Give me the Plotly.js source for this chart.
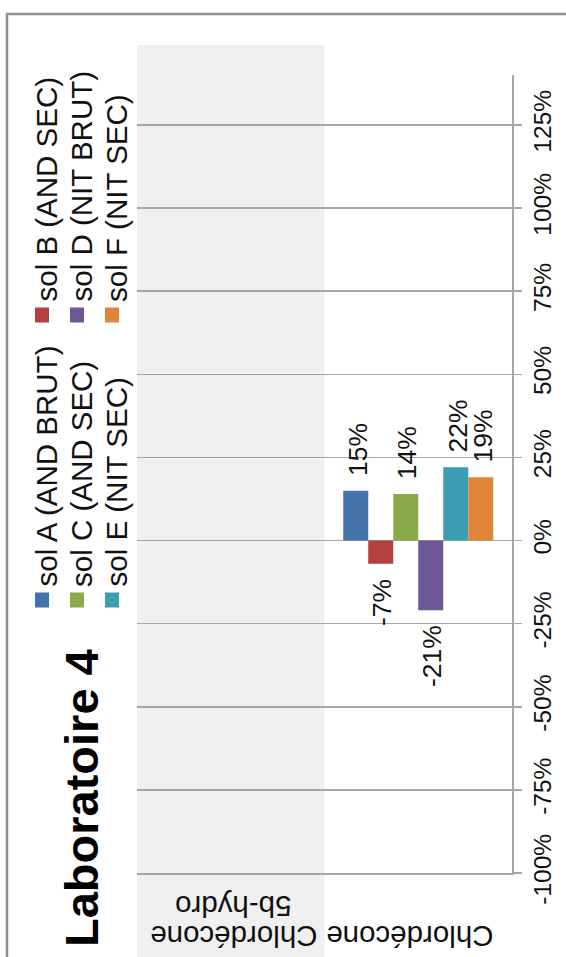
<!DOCTYPE html>
<html>
<head>
<meta charset="utf-8">
<script src="https://cdn.plot.ly/plotly-3.0.1.min.js"></script>
<style>
html,body{margin:0;padding:0;background:#fff;}
#chart{width:566px;height:957px;}
</style>
</head>
<body>
<div id="chart"></div>
<script>
// ---- data ----
var categories = ["Chlordécone<br>5b-hydro", "Chlordécone"];
var seriesNames = ["sol A (AND BRUT)", "sol B (AND SEC)", "sol C (AND SEC)", "sol D (NIT BRUT)", "sol E (NIT SEC)", "sol F (NIT SEC)"];
var solA = [null, 15];
var solB = [null, -7];
var solC = [null, 14];
var solD = [null, -21];
var solE = [null, 22];
var solF = [null, 19];
var seriesValues = [solA, solB, solC, solD, solE, solF];
var tickValues = [-100, -75, -50, -25, 0, 25, 50, 75, 100, 125];
var titleText = "Laboratoire 4";

// ---- styles ----
var colors = ["#4472AA", "#B5413E", "#89A94A", "#6F5696", "#3D9DB3", "#E0843A"];
var FONT = "Liberation Sans, Arial, sans-serif";
var W = 566, H = 957;
var L = 137, R = 512, T = 75, B = 873;
function px2x(px){ return (px - L) / (R - L); }
function py2y(py){ return (B - py) / (B - T); }
var BARGAP = 0.2;
var nSeries = seriesNames.length;
var catPx = (R - L) / categories.length;
var barPx = catPx * (1 - BARGAP) / nSeries;
var catLabelShift = [3, -8];

var traces = seriesNames.map(function(name, i){
  return {
    type: "bar",
    name: name,
    x: categories,
    y: seriesValues[i],
    marker: {color: colors[i], line: {color: colors[i], width: 0}},
    hoverinfo: "skip",
    showlegend: false
  };
});

var shapes = [];
var annotations = [];

// shaded first category band
shapes.push({type: "rect", layer: "below", xref: "paper", yref: "paper",
  x0: 0, x1: 0.5, y0: py2y(957), y1: py2y(45),
  fillcolor: "#f0f0f0", line: {width: 0}});
// outer frame
shapes.push({type: "rect", layer: "above", xref: "paper", yref: "paper",
  x0: px2x(7), x1: px2x(620), y0: py2y(1010), y1: py2y(14),
  fillcolor: "rgba(0,0,0,0)", line: {color: "#8f8f8f", width: 2.5}});

// title
annotations.push({xref: "paper", yref: "paper", x: px2x(81), y: py2y(798),
  xanchor: "center", yanchor: "middle", showarrow: false, textangle: -90,
  text: "<b>" + titleText + "</b>", font: {family: FONT, size: 47, color: "#000"}});

// legend (rotated)
var colMarkerX = [42, 77, 112];
var rowMarkerY = [600, 315];
seriesNames.forEach(function(name, i){
  var col = Math.floor(i / 2), row = i % 2;
  var mx = colMarkerX[col], my = rowMarkerY[row];
  shapes.push({type: "rect", xref: "paper", yref: "paper", layer: "above",
    x0: px2x(mx - 7), x1: px2x(mx + 7), y0: py2y(my + 7.5), y1: py2y(my - 7.5),
    fillcolor: colors[i], line: {width: 0}});
  annotations.push({xref: "paper", yref: "paper", x: px2x(mx + 4), y: py2y(my - 11),
    xanchor: "center", yanchor: "bottom", showarrow: false, textangle: -90,
    text: name, font: {family: FONT, size: 29.5, color: "#111"}});
});

// data labels (rotated, outside bar ends)
seriesValues.forEach(function(vals, i){
  vals.forEach(function(v, ci){
    if (v === null) return;
    annotations.push({xref: "x", yref: "y", x: categories[ci], y: v,
      xshift: (i - (nSeries - 1) / 2) * barPx + 2,
      yshift: v >= 0 ? 13 : -13,
      xanchor: "center", yanchor: v >= 0 ? "bottom" : "top",
      showarrow: false, textangle: -90,
      text: v + "%", font: {family: FONT, size: 26.5, color: "#111"}});
  });
});

// category labels (upside down)
categories.forEach(function(cat, ci){
  var lines = cat.split("<br>");
  lines.forEach(function(line, li){
    annotations.push({xref: "x", yref: "paper", x: cat, xshift: catLabelShift[ci],
      y: py2y(937 - li * 30),
      xanchor: "center", yanchor: "middle", showarrow: false, textangle: 180,
      text: line, font: {family: FONT, size: 29.5, color: "#111"}});
  });
});

var layout = {
  width: W, height: H,
  margin: {l: L, r: W - R, t: T, b: H - B, pad: 0},
  paper_bgcolor: "#fff", plot_bgcolor: "rgba(0,0,0,0)",
  barmode: "group", bargap: BARGAP, bargroupgap: 0,
  showlegend: false,
  font: {family: FONT, color: "#111"},
  xaxis: {type: "category", range: [-0.5, 1.5], showticklabels: false,
    showgrid: false, zeroline: false, showline: true, linecolor: "#a6a6a6", linewidth: 1.5,
    ticks: "", fixedrange: true},
  yaxis: {side: "right", range: [-100, 140], tickvals: tickValues,
    ticktext: tickValues.map(function(v){ return v + "%"; }),
    tickangle: -90, tickfont: {family: FONT, size: 24.5, color: "#111"},
    showgrid: true, gridcolor: "#a6a6a6", gridwidth: 1.5,
    zeroline: false, showline: true, linecolor: "#a6a6a6", linewidth: 1.5,
    ticks: "outside", ticklen: 8, tickcolor: "#a6a6a6", tickwidth: 1.5, fixedrange: true},
  shapes: shapes,
  annotations: annotations
};

Plotly.newPlot("chart", traces, layout, {displayModeBar: false, staticPlot: true});
</script>
</body>
</html>
